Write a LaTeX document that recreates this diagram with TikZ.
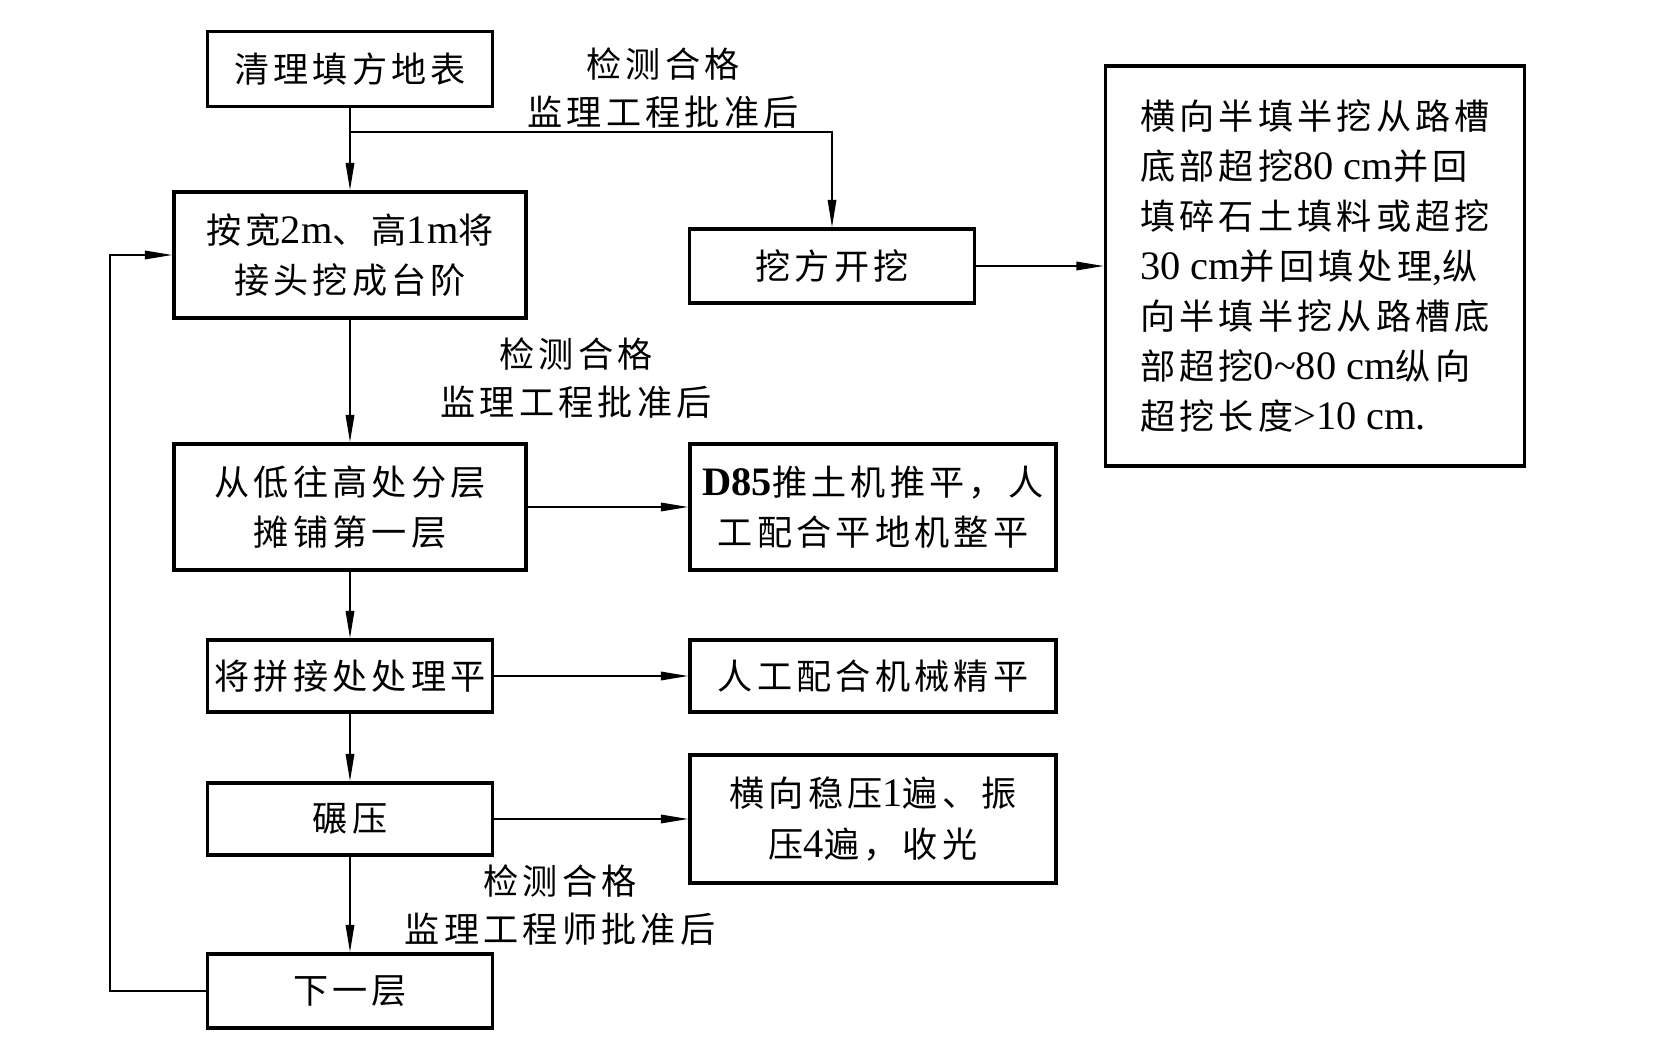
\documentclass[tikz,border=0pt]{standalone}
\usepackage{fontspec}
\setmainfont{Noto Sans CJK SC}[LetterSpace=12]
\newfontfamily\tnr{Liberation Serif}[Scale=1.15]
\usetikzlibrary{arrows.meta}

\tikzset{
  box/.style={draw, line width=2pt, minimum width=5.7cm, minimum height=1.45cm,
    align=center, inner sep=0pt, font=\fontsize{20}{28.5}\selectfont},
  lab/.style={align=center, inner sep=0pt, font=\fontsize{20}{27.5}\selectfont},
  flow/.style={line width=1pt, -{Triangle[length=0.55cm,width=0.17cm]}},
}

\begin{document}
\begin{tikzpicture}[x=0.02cm,y=-0.02cm]
\useasboundingbox (0,0) rectangle (1672,1047);
%Main column
\node[box, minimum height=1.5cm] (clear) at (350,69) {清理填方地表};
\node[box, minimum width=7.04cm, minimum height=2.52cm] (bench) at (350,255)
  {按宽{\tnr 2m}、高{\tnr 1m}将\\接头挖成台阶};
\node[box, minimum width=7.04cm, minimum height=2.52cm] (spread) at (350,507)
  {从低往高处分层\\摊铺第一层};
\node[box, minimum height=1.44cm] (joint) at (350,676) {将拼接处处理平};
\node[box, minimum height=1.44cm] (roll) at (350,819) {碾压};
\node[box, minimum height=1.48cm] (next) at (350,991) {下一层};
%Right column
\node[box, minimum height=1.48cm] (cut) at (832,266) {挖方开挖};
\node[box, minimum width=8.38cm, minimum height=8cm, align=left] (note) at (1315,266)
  {横向半填半挖从路槽\\底部超挖{\tnr 80 cm}并回\\填碎石土填料或超挖\\{\tnr 30 cm}并回填处理{\tnr ,}纵\\向半填半挖从路槽底\\部超挖{\tnr 0\textasciitilde80 cm}纵向\\超挖长度{\tnr >10 cm.}};
\node[box, minimum width=7.32cm, minimum height=2.52cm] (doze) at (873,507)
  {{\tnr\bfseries D85}推土机推平，人\\工配合平地机整平};
\node[box, minimum width=7.32cm, minimum height=1.44cm] (finish) at (873,676) {人工配合机械精平};
\node[box, minimum width=7.32cm, minimum height=2.56cm] (press) at (873,819)
  {横向稳压{\tnr 1}遍、振\\压{\tnr 4}遍，收光};
%Labels
\node[lab] (chk1) at (663,88) {检测合格\\监理工程批准后};
\node[lab] (chk2) at (576,378) {检测合格\\监理工程批准后};
\node[lab] (chk3) at (560,905) {检测合格\\监理工程师批准后};
%Connectors
\coordinate (fork) at (350,132);
\draw[flow] (clear) -- (bench);
\draw[flow] (fork) -| (cut);
\draw[flow] (cut) -- (note);
\draw[flow] (bench) -- (spread);
\draw[flow] (spread) -- (doze);
\draw[flow] (spread) -- (joint);
\draw[flow] (joint) -- (finish);
\draw[flow] (joint) -- (roll);
\draw[flow] (roll) -- (press);
\draw[flow] (roll) -- (next);
%Loop back
\draw[flow] (next.west) -- ++(-96,0) |- (bench.west);
\end{tikzpicture}
\end{document}
